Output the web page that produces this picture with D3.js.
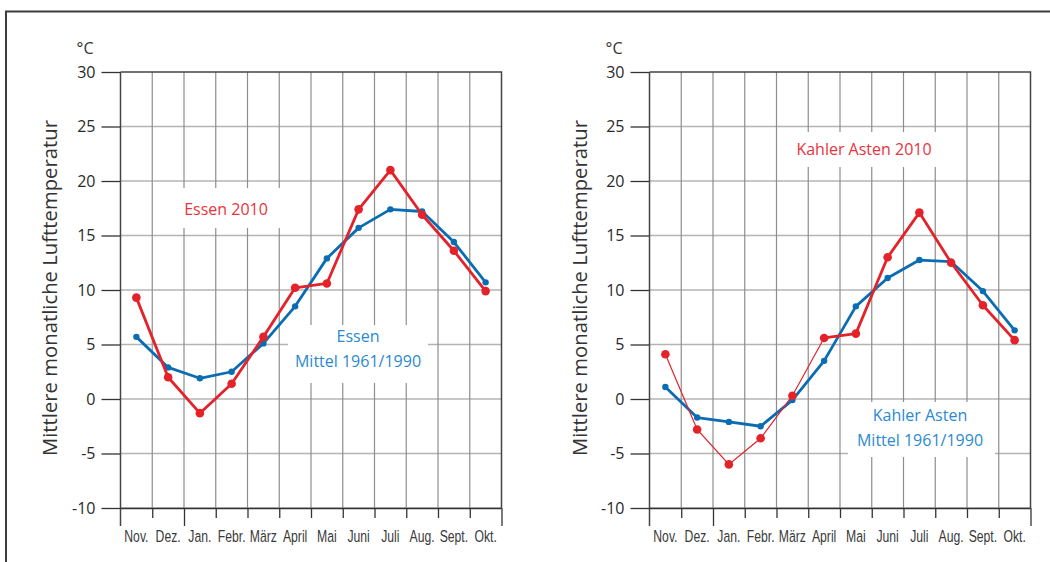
<!DOCTYPE html>
<html><head><meta charset="utf-8">
<script src="https://cdn.jsdelivr.net/npm/d3@7/dist/d3.min.js"></script>
<style>
html,body{margin:0;padding:0;background:#fff;}
svg{display:block;}
.lbl{font-family:"Open Sans","Noto Sans",sans-serif;}
.mon{font-family:"Liberation Sans",sans-serif;}
</style></head>
<body>
<svg id="c" width="1050" height="562"></svg>
<script>
const months = ["Nov.", "Dez.", "Jan.", "Febr.", "März", "April", "Mai", "Juni", "Juli", "Aug.", "Sept.", "Okt."];
const yTicks = [-10, -5, 0, 5, 10, 15, 20, 25, 30];
const essen2010 = [9.3, 2.0, -1.3, 1.4, 5.7, 10.2, 10.6, 17.4, 21.0, 16.9, 13.6, 9.9];
const essenMittel = [5.7, 2.9, 1.9, 2.5, 5.1, 8.5, 12.9, 15.7, 17.4, 17.2, 14.4, 10.7];
const kahler2010 = [4.1, -2.8, -6.0, -3.6, 0.3, 5.6, 6.0, 13.0, 17.1, 12.5, 8.6, 5.4];
const kahlerMittel = [1.1, -1.7, -2.1, -2.5, -0.1, 3.5, 8.5, 11.1, 12.75, 12.6, 9.9, 6.3];
const yTitle = "Mittlere monatliche Lufttemperatur";
const unit = "°C";

const RED = "#e42229", BLUE = "#0a6db3", RED_T = "#e8343d", BLUE_T = "#2a8ad0";

const svg = d3.select("#c");
// frame
svg.append("path").attr("d", "M6,562V11.5H1050").attr("fill", "none").attr("stroke", "#3c3c3c").attr("stroke-width", 2);

const panels = [
  { left: 120.5, red: essen2010, blue: essenMittel, thinUntil: 0, titleX: 50,
    redLabel: { lines: ["Essen 2010"], box: [172, 188, 110, 40], cx: 226, y0: 214.5 },
    blueLabel: { lines: ["Essen", "Mittel 1961/1990"], box: [288, 325, 140, 58], cx: 358, y0: 341.5 } },
  { left: 649.5, red: kahler2010, blue: kahlerMittel, thinUntil: 5, titleX: 580,
    redLabel: { lines: ["Kahler Asten 2010"], box: [790, 132, 150, 35], cx: 864, y0: 154.5 },
    blueLabel: { lines: ["Kahler Asten", "Mittel 1961/1990"], box: [848, 402, 147, 55], cx: 920, y0: 420.5 } }
];

const W = 381, TOP = 72, BOT = 508;

panels.forEach(p => {
  const g = svg.append("g");
  const x = d3.scaleBand().domain(months).range([p.left, p.left + W]).padding(0);
  const xb = d3.scaleLinear().domain([0, 12]).range([p.left, p.left + W]);
  const y = d3.scaleLinear().domain([-10, 30]).range([BOT, TOP]);
  const cx = m => x(m) + x.bandwidth() / 2;

  // horizontal grid
  g.append("g").selectAll("line").data(yTicks.filter(t => t !== 30)).join("line")
    .attr("x1", p.left).attr("x2", p.left + W).attr("y1", d => y(d)).attr("y2", d => y(d))
    .attr("stroke", "#b4b4b4").attr("stroke-width", 1.6);
  // vertical grid
  g.append("g").selectAll("line").data(d3.range(1, 12)).join("line")
    .attr("x1", d => xb(d)).attr("x2", d => xb(d)).attr("y1", TOP).attr("y2", BOT)
    .attr("stroke", "#8e8e8e").attr("stroke-width", 1.2);
  // top & right border
  g.append("path").attr("d", `M${p.left},${y(30)}H${p.left + W}V${BOT}`).attr("fill", "none")
    .attr("stroke", "#444").attr("stroke-width", 1.5);

  // label boxes
  [p.redLabel, p.blueLabel].forEach(l => {
    g.append("rect").attr("x", l.box[0]).attr("y", l.box[1]).attr("width", l.box[2]).attr("height", l.box[3]).attr("fill", "#fff");
  });

  // y axis
  const ya = g.append("g").attr("transform", `translate(${p.left},0)`)
    .call(d3.axisLeft(y).tickValues(yTicks).tickSize(19).tickPadding(6).tickFormat(d => String(d)));
  ya.select(".domain").remove();
  ya.selectAll(".tick line").attr("stroke", "#333").attr("stroke-width", 1.3);
  ya.selectAll(".tick text").attr("class", "lbl").attr("font-size", 16).attr("fill", "#2a2a2a");
  g.append("line").attr("x1", p.left).attr("x2", p.left).attr("y1", TOP).attr("y2", BOT + 18)
    .attr("stroke", "#444").attr("stroke-width", 1.5);

  // bottom axis line + ticks
  const xa = g.append("g").attr("transform", `translate(0,${BOT})`)
    .call(d3.axisBottom(xb).tickValues(d3.range(1, 13)).tickSize(10).tickFormat(""));
  xa.select(".domain").attr("stroke", "#333").attr("stroke-width", 1.5).attr("d", `M${p.left},0.5H${p.left + W}`);
  xa.selectAll(".tick line").attr("stroke", "#333").attr("stroke-width", 1.3)
    .attr("y2", d => (d === 2 || d === 12) ? 18 : 10);

  // month labels
  const ma = g.append("g").attr("transform", `translate(0,${BOT})`)
    .call(d3.axisBottom(x).tickSize(0).tickPadding(22));
  ma.select(".domain").remove();
  ma.selectAll(".tick text").attr("class", "mon").attr("font-size", 16.5).attr("fill", "#3a3a3a")
    .attr("transform", "scale(0.74,1)");

  // unit and title
  g.append("text").attr("class", "lbl").attr("x", p.left - 27).attr("y", 54).attr("text-anchor", "end")
    .attr("font-size", 16).attr("fill", "#333").text(unit);
  g.append("text").attr("class", "lbl").attr("transform", `translate(${p.titleX + 7},${(TOP + BOT) / 2 - 2}) rotate(-90)`)
    .attr("text-anchor", "middle").attr("font-size", 20.3).attr("fill", "#333").text(yTitle);

  const line = d3.line().x((d, i) => cx(months[i])).y(d => y(d));
  const pts = arr => arr.map((v, i) => [cx(months[i]), y(v)]);
  const lineP = d3.line();

  // blue series
  g.append("path").attr("d", line(p.blue)).attr("fill", "none").attr("stroke", BLUE).attr("stroke-width", 2.8).attr("stroke-linejoin", "round");
  g.append("g").selectAll("circle").data(p.blue).join("circle")
    .attr("cx", (d, i) => cx(months[i])).attr("cy", d => y(d)).attr("r", 3.2).attr("fill", BLUE);

  // red series
  const rp = pts(p.red);
  if (p.thinUntil > 0) {
    g.append("path").attr("d", lineP(rp.slice(0, p.thinUntil + 1))).attr("fill", "none").attr("stroke", RED).attr("stroke-width", 1.2);
  }
  g.append("path").attr("d", lineP(rp.slice(p.thinUntil))).attr("fill", "none").attr("stroke", RED).attr("stroke-width", 2.8).attr("stroke-linejoin", "round");
  g.append("g").selectAll("circle").data(p.red).join("circle")
    .attr("cx", (d, i) => cx(months[i])).attr("cy", d => y(d)).attr("r", 4.3).attr("fill", RED);

  // labels
  [[p.redLabel, RED_T], [p.blueLabel, BLUE_T]].forEach(([l, col]) => {
    l.lines.forEach((t, i) => {
      g.append("text").attr("class", "lbl").attr("x", l.cx).attr("y", l.y0 + i * 25.5)
        .attr("text-anchor", "middle").attr("font-size", 16).attr("fill", col).text(t);
    });
  });
});
</script>
</body></html>
